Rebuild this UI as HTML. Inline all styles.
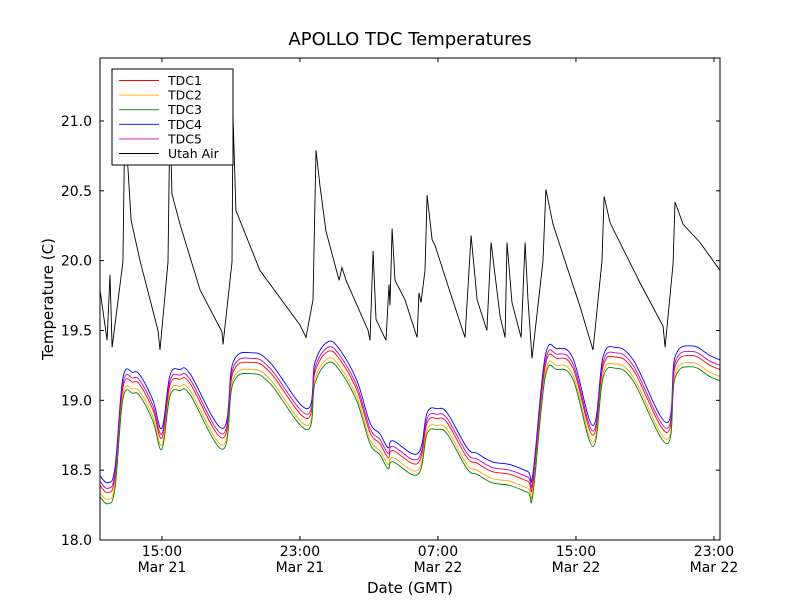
<!DOCTYPE html>
<html><head><meta charset="utf-8"><style>
body{margin:0;background:#fff;font-family:"DejaVu Sans","Liberation Sans",sans-serif}
svg text{font-family:"DejaVu Sans","Liberation Sans",sans-serif}
</style></head><body>
<svg id="chart" width="800" height="600" xmlns="http://www.w3.org/2000/svg">
<rect width="800" height="600" fill="#fff"/>
<defs><clipPath id="pc"><rect x="100" y="58" width="620" height="482"/></clipPath></defs>
<g id="series" clip-path="url(#pc)"></g>
<rect x="100" y="58" width="620" height="482" fill="none" stroke="#000" stroke-width="1"/>
<g id="ticks"></g>
<text x="410" y="45" text-anchor="middle" font-size="18">APOLLO TDC Temperatures</text>
<text x="410" y="593" text-anchor="middle" font-size="15">Date (GMT)</text>
<text transform="translate(53,299) rotate(-90)" text-anchor="middle" font-size="15">Temperature (C)</text>
<g id="legend"></g>
</svg>
<script>
const hours=[11.41,11.87,12.28,12.74,13.32,13.73,14.48,15.00,15.47,16.05,16.63,18.54,19.12,20.22,21.27,23.41,23.87,24.63,25.32,26.31,27.06,27.64,28.11,28.40,29.84,30.37,30.95,31.53,32.69,33.27,34.14,35.18,36.22,36.51,37.21,37.90,38.83,39.99,40.57,41.26,42.31,44.28,44.74,45.73,46.77,47.35];
const tdc1=[18.39,18.34,18.45,19.09,19.13,19.11,18.93,18.73,19.11,19.15,19.12,18.73,19.20,19.27,19.20,18.87,19.20,19.35,19.29,19.07,18.77,18.69,18.59,18.64,18.55,18.84,18.87,18.84,18.59,18.55,18.49,18.47,18.42,18.41,19.24,19.30,19.23,18.75,19.24,19.31,19.22,18.77,19.24,19.32,19.25,19.22];
const tdc2=[18.34,18.29,18.40,19.04,19.08,19.06,18.88,18.68,19.06,19.10,19.07,18.68,19.15,19.22,19.15,18.82,19.15,19.30,19.24,19.02,18.72,18.64,18.54,18.59,18.50,18.79,18.82,18.79,18.54,18.50,18.44,18.42,18.37,18.36,19.19,19.25,19.18,18.70,19.19,19.26,19.17,18.72,19.19,19.27,19.20,19.17];
const tdc3=[18.31,18.26,18.37,19.01,19.05,19.03,18.85,18.65,19.03,19.07,19.04,18.65,19.12,19.19,19.12,18.79,19.12,19.27,19.21,18.99,18.69,18.61,18.51,18.56,18.47,18.76,18.79,18.76,18.51,18.47,18.41,18.39,18.34,18.33,19.16,19.22,19.15,18.67,19.16,19.23,19.14,18.69,19.16,19.24,19.17,19.14];
const tdc4=[18.46,18.41,18.52,19.16,19.20,19.18,19.00,18.80,19.18,19.22,19.19,18.80,19.27,19.34,19.27,18.94,19.27,19.42,19.36,19.14,18.84,18.76,18.66,18.71,18.62,18.91,18.94,18.91,18.66,18.62,18.56,18.54,18.49,18.48,19.31,19.37,19.30,18.82,19.31,19.38,19.29,18.84,19.31,19.39,19.32,19.29];
const tdc5=[18.42,18.37,18.48,19.12,19.16,19.14,18.96,18.76,19.14,19.18,19.15,18.76,19.23,19.30,19.23,18.90,19.23,19.38,19.32,19.10,18.80,18.72,18.62,18.67,18.58,18.87,18.90,18.87,18.62,18.58,18.52,18.50,18.45,18.44,19.27,19.33,19.26,18.78,19.27,19.34,19.25,18.80,19.27,19.35,19.28,19.25];
const airHours=[11.41,11.82,11.99,12.11,12.74,12.86,12.98,13.21,13.73,14.77,14.89,15.35,15.47,15.58,16.05,17.21,18.48,18.54,19.06,19.12,19.29,20.68,23.00,23.35,23.76,23.93,24.16,24.51,25.27,25.44,25.67,26.95,27.06,27.24,27.41,27.99,28.16,28.22,28.34,28.51,29.09,29.79,29.90,30.02,30.25,30.37,30.66,30.83,31.53,32.57,32.92,33.27,33.84,34.08,34.60,34.89,35.00,35.29,35.82,36.05,36.22,36.45,37.09,37.26,37.67,39.24,39.99,40.51,40.63,40.98,42.72,44.05,44.17,44.63,44.74,45.21,46.19,47.35];
const air=[19.79,19.43,19.90,19.38,19.99,21.08,20.76,20.29,20.00,19.50,19.36,19.99,21.08,20.48,20.26,19.79,19.49,19.40,19.99,21.04,20.36,19.93,19.54,19.45,19.72,20.79,20.54,20.21,19.86,19.95,19.86,19.50,19.43,20.07,19.58,19.43,19.83,19.68,20.23,19.86,19.72,19.45,19.77,19.70,19.93,20.47,20.15,20.11,19.84,19.45,20.18,19.72,19.50,20.13,19.60,19.45,20.13,19.70,19.45,20.13,19.72,19.30,20.00,20.51,20.26,19.67,19.36,20.00,20.46,20.27,19.84,19.53,19.38,19.98,20.42,20.26,20.13,19.93];
const yTicks=[18.0,18.5,19.0,19.5,20.0,20.5,21.0];
const xTickHours=[15,23,31,39,47];
const xTickTimes=["15:00","23:00","07:00","15:00","23:00"];
const xTickDates=["Mar 21","Mar 21","Mar 22","Mar 22","Mar 22"];
const legendLabels=["TDC1","TDC2","TDC3","TDC4","TDC5","Utah Air"];

const X0=100,X1=720,Y0=540,Y1=58,HMIN=11.41,HMAX=47.35,TMIN=18,TMAX=21.451;
const xs=h=>X0+(h-HMIN)/(HMAX-HMIN)*(X1-X0);
const ys=t=>Y0-(t-TMIN)/(TMAX-TMIN)*(Y0-Y1);
const NS="http://www.w3.org/2000/svg";
const ser=document.getElementById('series');
const colors=["#ff0000","#ffa500","#008000","#0000ff","#bf00bf","#000000"];
const names=["tdc1-line","tdc2-line","tdc3-line","tdc4-line","tdc5-line","utah-air-line"];
const datas=[[hours,tdc1],[hours,tdc2],[hours,tdc3],[hours,tdc4],[hours,tdc5],[airHours,air]];
function smoothPath(pts){
  let d='M'+pts[0][0].toFixed(1)+','+pts[0][1].toFixed(1);
  for(let i=0;i<pts.length-1;i++){
    const p0=pts[Math.max(0,i-1)],p1=pts[i],p2=pts[i+1],p3=pts[Math.min(pts.length-1,i+2)];
    const k=0.18;
    const c1=[p1[0]+(p2[0]-p0[0])*k,p1[1]+(p2[1]-p0[1])*k];
    const c2=[p2[0]-(p3[0]-p1[0])*k,p2[1]-(p3[1]-p1[1])*k];
    d+=' C'+c1[0].toFixed(1)+','+c1[1].toFixed(1)+' '+c2[0].toFixed(1)+','+c2[1].toFixed(1)+' '+p2[0].toFixed(1)+','+p2[1].toFixed(1);
  }
  return d;
}
datas.forEach((d,i)=>{
  const pts=d[0].map((h,j)=>[xs(h),ys(d[1][j])]);
  const p=document.createElementNS(NS,'path');
  if(i<5){p.setAttribute('d',smoothPath(pts));}
  else{p.setAttribute('d','M'+pts.map(q=>q[0].toFixed(1)+','+q[1].toFixed(1)).join(' L'));}
  p.setAttribute('fill','none');p.setAttribute('stroke',colors[i]);p.setAttribute('stroke-width','0.9');
  
  
  ser.appendChild(p);
});
const tk=document.getElementById('ticks');
function line(x1,y1,x2,y2,g){const l=document.createElementNS(NS,'line');l.setAttribute('x1',x1);l.setAttribute('y1',y1);l.setAttribute('x2',x2);l.setAttribute('y2',y2);l.setAttribute('stroke','#000');g.appendChild(l);return l;}
function text(x,y,s,anchor,size,g){const t=document.createElementNS(NS,'text');t.setAttribute('x',x);t.setAttribute('y',y);t.setAttribute('text-anchor',anchor);t.setAttribute('font-size',size);t.textContent=s;g.appendChild(t);return t;}
yTicks.forEach(v=>{const y=ys(v);line(X0,y,X0+4,y,tk);line(X1,y,X1-4,y,tk);
  const t=text(X0-8,y+5,v.toFixed(1),'end',14,tk);
  
  });
xTickHours.forEach((h,i)=>{const x=xs(h);line(x,Y0,x,Y0-4,tk);line(x,Y1,x,Y1+4,tk);
  const t1=text(x,556,xTickTimes[i],'middle',14,tk);
  
  
  const t2=text(x,572,xTickDates[i],'middle',14,tk);
  
  });
const lg=document.getElementById('legend');
const box=document.createElementNS(NS,'rect');
box.setAttribute('x',112);box.setAttribute('y',69);box.setAttribute('width',121);box.setAttribute('height',96);box.setAttribute('fill','#fff');box.setAttribute('stroke','#000');


lg.appendChild(box);
legendLabels.forEach((s,i)=>{const y=80.5+i*14.6;
  const l=line(119,y,159,y,lg);l.setAttribute('stroke',colors[i]);l.setAttribute('stroke-width','0.9');
  
  
  const t=text(168,y+4.5,s,'start',12.5,lg);
  
  });
</script>
</body></html>
